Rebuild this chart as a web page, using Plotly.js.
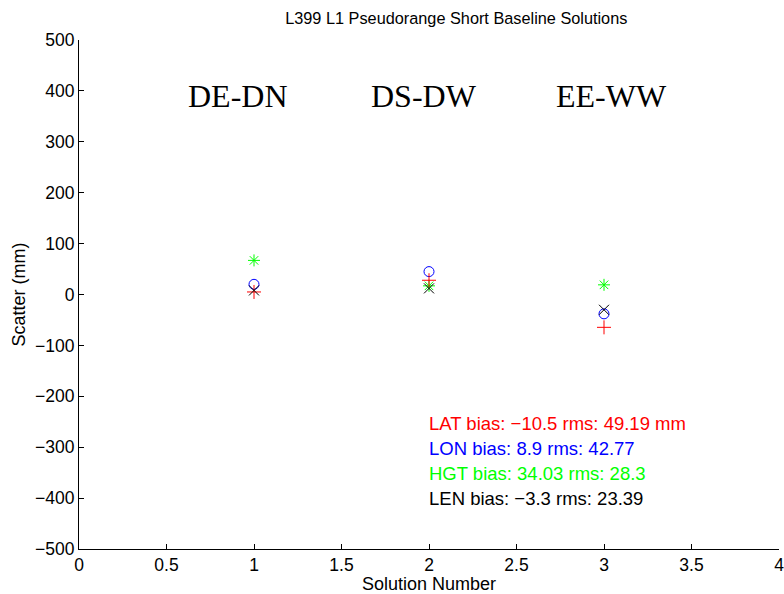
<!DOCTYPE html>
<html><head><meta charset="utf-8">
<script src="https://cdn.plot.ly/plotly-3.0.1.min.js"></script>
<style>body{margin:0;padding:0;background:#fff}#chart{width:784px;height:594px}</style>
</head><body><div id="chart"></div>
<script>
const solutions = [1, 2, 3];
const baselineNames = ["DE-DN", "DS-DW", "EE-WW"];
const latValues = [5, 28, -64.5];
const lonValues = [20, 45, -38];
const hgtValues = [67, 17, 19];
const lenValues = [8, 12, -30];
const statLines = ["LAT bias: −10.5 rms: 49.19 mm", "LON bias: 8.9 rms: 42.77", "HGT bias: 34.03 rms: 28.3", "LEN bias: −3.3 rms: 23.39"];
const statColors = ["#ff0000", "#0000ff", "#00ff00", "#000000"];
const xTicks = [0, 0.5, 1, 1.5, 2, 2.5, 3, 3.5, 4];
const yTicks = [-500, -400, -300, -200, -100, 0, 100, 200, 300, 400, 500];

const mk = (y, sym, color) => ({
  x: solutions, y: y, type: 'scatter', mode: 'markers',
  marker: {symbol: sym, size: 10, color: color, line: {color: color, width: 1}},
  showlegend: false, hoverinfo: 'none', cliponaxis: false
});
const traces = [
  mk(hgtValues, 'asterisk-open', '#00ff00'),
  mk(lonValues, 'circle-open', '#0000ff'),
  mk(latValues, 'cross-thin-open', '#ff0000'),
  mk(lenValues, 'x-thin-open', '#000000')
];

const labelOffsets = [-0.09, -0.03, 0.04];
const annotations = [];
baselineNames.forEach((n, i) => annotations.push({
  x: solutions[i] + labelOffsets[i], y: 390, xref: 'x', yref: 'y', text: n, showarrow: false,
  font: {family: 'Liberation Serif, Times New Roman, serif', size: 32, color: '#000'},
  xanchor: 'center', yanchor: 'middle'
}));
statLines.forEach((t, i) => annotations.push({
  x: 1.99, y: -253 - i * 49, xref: 'x', yref: 'y', text: t, showarrow: false,
  font: {family: 'Liberation Sans, Arial, sans-serif', size: 18.5, color: statColors[i]},
  xanchor: 'left', yanchor: 'middle'
}));

const sans = 'Liberation Sans, Arial, sans-serif';
const axisCommon = {
  showgrid: false, zeroline: false, showline: true, linecolor: '#000', linewidth: 1,
  ticks: 'inside', ticklen: 5, tickcolor: '#000', mirror: false,
  ticklabeloverflow: 'allow',
  tickfont: {family: sans, size: 17.5, color: '#000'}
};
const layout = {
  width: 784, height: 594,
  margin: {l: 79, r: 5, t: 40, b: 45},
  paper_bgcolor: '#fff', plot_bgcolor: '#fff',
  title: {text: 'L399 L1 Pseudorange Short Baseline Solutions', x: 0.582, xanchor: 'center', y: 0.97, yanchor: 'middle',
    font: {family: sans, size: 16.3, color: '#000'}},
  xaxis: Object.assign({}, axisCommon, {range: [0, 4], tickvals: xTicks, ticktext: xTicks.map(String),
    title: {text: 'Solution Number', standoff: 0, font: {family: sans, size: 18, color: '#000'}}}),
  yaxis: Object.assign({}, axisCommon, {range: [-500, 500], tickvals: yTicks, ticktext: yTicks.map(v => v < 0 ? '−' + Math.abs(v) : String(v)),
    title: {text: 'Scatter (mm)', standoff: 4, font: {family: sans, size: 18, color: '#000'}}}),
  annotations: annotations
};
Plotly.newPlot('chart', traces, layout, {displayModeBar: false, staticPlot: true});
</script></body></html>
